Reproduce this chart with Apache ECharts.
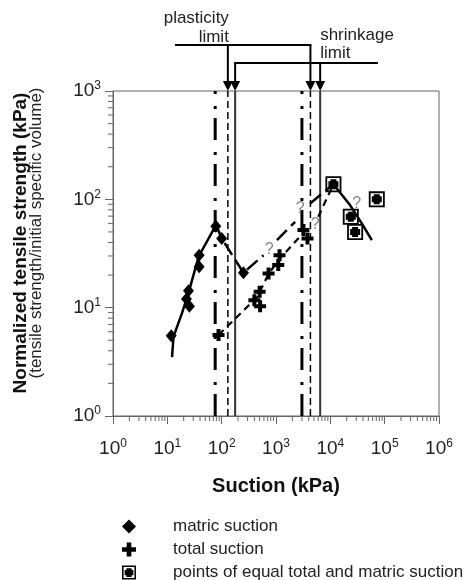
<!DOCTYPE html>
<html>
<head>
<meta charset="utf-8">
<script src="https://cdn.jsdelivr.net/npm/echarts@6/dist/echarts.min.js"></script>
<style>
  html, body { margin: 0; padding: 0; background: #fff; }
  #chart { width: 466px; height: 580px; }
</style>
</head>
<body>
<div id="chart"></div>
<script>
// Measured points: [suction (kPa), normalized tensile strength (kPa)]
const matricSuction = [[11.8, 5.5], [22.5, 12.0], [24.5, 14.3], [25.5, 10.3], [38.5, 30.5], [38.5, 23.8], [78, 56.5], [100, 43.5], [252, 21]];
const totalSuction = [[87.5, 5.6], [400, 11.7], [500, 14.0], [510, 10.3], [730, 20.7], [1100, 24.7], [1160, 30.5], [3200, 52], [3800, 43.5]];
const equalSuction = [[11400, 138], [23800, 69], [28600, 50], [71600, 100]];

// Trend lines
const matricTrend = [[12.2, 3.5], [13, 5.4], [18.6, 8.9], [24.5, 13.6], [37.5, 29.5], [79, 58]];
const matricLinks = [
  [[79, 58], [100, 43.5], [252, 21], [590, 30.5]],
  [[1040, 42], [2250, 62]],
  [[4250, 91.5], [11400, 138]]
];
const totalLinks = [
  [[87.5, 5.6], [450, 12.5], [730, 20.5], [1150, 28], [3300, 50]],
  [[6000, 69], [11400, 138]]
];
const drying = [[11400, 138], [23200, 88], [37900, 60], [58000, 42]];
const uncertain = [[748, 34], [2780, 83], [5250, 58], [30700, 92]];

// Suction at the limits
const dashDotLimits = [76, 3000];
const plasticLimits = [130, 4300];
const shrinkLimits = [177, 6500];

// Legend entries
const legendNames = ['matric suction', 'total suction', 'points of equal total and matric suction'];

// Axis ranges and tick sets
const xRange = [1, 1e6];
const yRange = [1, 1e3];
const decadesX = [1, 10, 100, 1e3, 1e4, 1e5];
const decadesY = [1, 10, 100];
const minorSteps = [2, 3, 4, 5, 6, 7, 8, 9];

const xMinor = [];
decadesX.forEach(d => minorSteps.forEach(m => xMinor.push([d * m, yRange[0]])));
const yMinor = [];
decadesY.forEach(d => minorSteps.forEach(m => yMinor.push([xRange[0], d * m])));

const FONT = '"Liberation Sans", Arial, sans-serif';
const AXIS_COLOR = '#666';

const diamondIcon = 'diamond';
const plusIcon = 'path://M4,0H8V4H12V8H8V12H4V8H0V4H4Z';
const boxIcon = 'path://M0,0H16V16H0Z M1.8,1.8V14.2H14.2V1.8Z M3,5H5V3H11V5H13V11H11V13H5V11H3Z';
const icons = [diamondIcon, plusIcon, boxIcon];

function powLabel(v) {
  return '{b|10}{s|' + Math.round(Math.log10(v)) + '}';
}
const labelRich = {
  b: { fontSize: 19, color: '#222', fontFamily: FONT },
  s: { fontSize: 12, color: '#222', fontFamily: FONT, padding: [0, 0, 10, 0] }
};

function lineSeries(data, width, type, z) {
  return {
    type: 'line', data: data, symbol: 'none', silent: true, z: z || 3,
    lineStyle: { color: '#000', width: width, type: type }
  };
}

function verticalSeries(values, width, type, color) {
  return values.map(v => ({
    type: 'line', data: [[v, yRange[0]], [v, yRange[1]]], symbol: 'none', silent: true, z: 2,
    lineStyle: { color: color || '#000', width: width, type: type }
  }));
}

function minorTickSeries(data, horizontal) {
  return {
    type: 'custom', data: data, clip: false, silent: true, z: 1,
    renderItem: function (params, api) {
      const p = api.coord([api.value(0), api.value(1)]);
      const shape = horizontal
        ? { x1: p[0] - 5, y1: p[1], x2: p[0], y2: p[1] }
        : { x1: p[0], y1: p[1], x2: p[0], y2: p[1] + 5 };
      return { type: 'line', shape: shape, style: { stroke: AXIS_COLOR, lineWidth: 1 } };
    }
  };
}

const series = [];
series.push(minorTickSeries(xMinor, false));
series.push(minorTickSeries(yMinor, true));
verticalSeries(dashDotLimits, 3, [22, 9, 3, 12]).forEach(s => series.push(s));
verticalSeries(plasticLimits, 1.5, [7, 4]).forEach(s => series.push(s));
verticalSeries(shrinkLimits, 2, 'solid', '#333').forEach(s => series.push(s));
series.push(lineSeries(matricTrend, 2.5, 'solid'));
matricLinks.forEach(seg => series.push(lineSeries(seg, 2.5, [14, 6])));
totalLinks.forEach(seg => series.push(lineSeries(seg, 2.2, [7, 5])));
series.push(lineSeries(drying, 2.5, 'solid'));
series.push({
  type: 'scatter', data: uncertain, symbolSize: 1, silent: true, z: 6,
  itemStyle: { color: 'rgba(0,0,0,0)' },
  label: { show: true, formatter: '?', position: 'inside', fontSize: 16, color: '#666', fontFamily: FONT }
});
series.push({
  name: legendNames[0], type: 'scatter', data: matricSuction, symbol: diamondIcon,
  symbolSize: [11, 13], itemStyle: { color: '#000', opacity: 1 }, z: 7
});
series.push({
  name: legendNames[1], type: 'scatter', data: totalSuction, symbol: plusIcon,
  symbolSize: 12, itemStyle: { color: '#000', opacity: 1 }, z: 7
});
series.push({
  name: legendNames[2], type: 'scatter', data: equalSuction,
  symbol: boxIcon, symbolSize: 16, itemStyle: { color: '#000', opacity: 1 }, z: 8
});

// One legend row per entry, stacked below the axis title
const legends = legendNames.map((name, i) => ({
  orient: 'vertical', left: 122, top: 518 + i * 23, padding: 0,
  itemWidth: 14, itemHeight: 14,
  textStyle: { fontSize: 17, color: '#222', padding: [0, 0, 0, 32], fontFamily: FONT },
  data: [{ name: name, icon: icons[i] }],
  itemStyle: { opacity: 1 },
  selectedMode: false
}));

const chart = echarts.init(document.getElementById('chart'), null, { renderer: 'canvas' });
chart.setOption({
  animation: false,
  backgroundColor: '#fff',
  textStyle: { fontFamily: FONT },
  grid: {
    left: 113, right: 27, top: 91, bottom: 164,
    show: true, borderColor: AXIS_COLOR, borderWidth: 1, backgroundColor: 'transparent'
  },
  xAxis: {
    type: 'log', logBase: 10, min: xRange[0], max: xRange[1], splitNumber: 6,
    axisLine: { show: true, lineStyle: { color: AXIS_COLOR, width: 1 } },
    axisTick: { show: true, length: 8, inside: false, lineStyle: { color: AXIS_COLOR } },
    splitLine: { show: false },
    axisLabel: { margin: 22, formatter: powLabel, rich: labelRich },
    name: 'Suction (kPa)', nameLocation: 'middle', nameGap: 60,
    nameTextStyle: { fontSize: 20, fontWeight: 'bold', color: '#111', fontFamily: FONT }
  },
  yAxis: {
    type: 'log', logBase: 10, min: yRange[0], max: yRange[1], splitNumber: 3,
    axisLine: { show: true, lineStyle: { color: AXIS_COLOR, width: 1 } },
    axisTick: { show: true, length: 8, inside: false, lineStyle: { color: AXIS_COLOR } },
    splitLine: { show: false },
    axisLabel: { margin: 12, formatter: powLabel, rich: labelRich }
  },
  legend: legends,
  series: series
});

// Limit callouts above the plot frame, placed from the axis scale
function px(v) { return chart.convertToPixel({ xAxisIndex: 0 }, v); }
const frameTop = chart.convertToPixel({ yAxisIndex: 0 }, yRange[1]);
const pl = plasticLimits.map(px);
const sl = shrinkLimits.map(px);
const plY = 45, slY = 63;

function arrow(x, yStart) {
  return [
    { type: 'line', shape: { x1: x, y1: yStart, x2: x, y2: frameTop - 8 }, style: { stroke: '#000', lineWidth: 2 } },
    { type: 'polygon', shape: { points: [[x - 5, frameTop - 10], [x + 5, frameTop - 10], [x, frameTop]] }, style: { fill: '#000' } }
  ];
}

const graphics = [];
graphics.push({ type: 'line', shape: { x1: 175, y1: plY, x2: pl[1] + 1, y2: plY }, style: { stroke: '#000', lineWidth: 2 } });
graphics.push({ type: 'line', shape: { x1: sl[0] - 1, y1: slY, x2: 378, y2: slY }, style: { stroke: '#000', lineWidth: 2 } });
pl.forEach(x => arrow(x, plY).forEach(g => graphics.push(g)));
sl.forEach(x => arrow(x, slY).forEach(g => graphics.push(g)));
const annStyle = { fontSize: 17, fill: '#222', fontFamily: FONT };
graphics.push({ type: 'text', x: pl[0] + 1, y: 18, style: Object.assign({ text: 'plasticity', align: 'right', verticalAlign: 'middle' }, annStyle) });
graphics.push({ type: 'text', x: pl[0] + 1, y: 37, style: Object.assign({ text: 'limit', align: 'right', verticalAlign: 'middle' }, annStyle) });
graphics.push({ type: 'text', x: sl[1], y: 35, style: Object.assign({ text: 'shrinkage', align: 'left', verticalAlign: 'middle' }, annStyle) });
graphics.push({ type: 'text', x: sl[1], y: 53, style: Object.assign({ text: 'limit', align: 'left', verticalAlign: 'middle' }, annStyle) });

// Y-axis title in two lines
graphics.push({
  type: 'text', x: 21, y: 243, rotation: Math.PI / 2,
  style: { text: 'Normalized tensile strength (kPa)', align: 'center', verticalAlign: 'middle', fontSize: 19, fontWeight: 'bold', fill: '#111', fontFamily: FONT }
});
graphics.push({
  type: 'text', x: 36, y: 233, rotation: Math.PI / 2,
  style: { text: '(tensile strength/initial specific volume)', align: 'center', verticalAlign: 'middle', fontSize: 17, fill: '#222', fontFamily: FONT }
});

chart.setOption({ graphic: graphics });
</script>
</body>
</html>
